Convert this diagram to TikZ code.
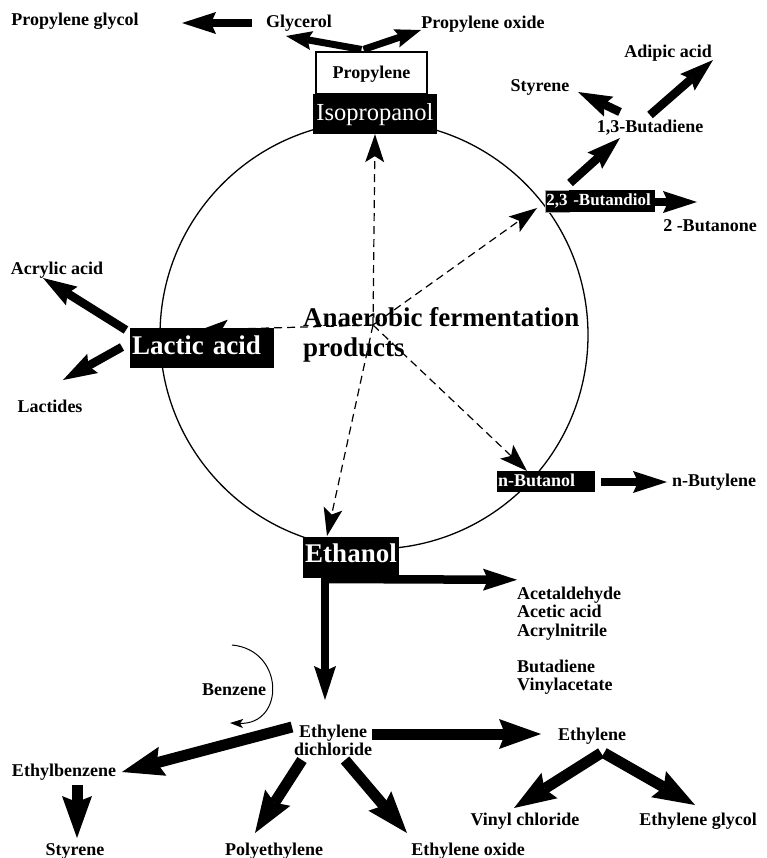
\documentclass[tikz,border=0pt]{standalone}
\usepackage{fontspec}
\setmainfont{Liberation Serif}
\usetikzlibrary{arrows.meta}
\begin{document}
\begin{tikzpicture}[x=1pt,y=-1pt,
  lbl/.style={font=\bfseries\fontsize{18}{20}\selectfont, inner sep=1pt, text height=12pt, text depth=4pt, anchor=base},
  blkbox/.style={fill=black, text=white, inner sep=0pt},
  smallfont/.style={font=\bfseries\fontsize{18}{20}\selectfont},
  bigfont/.style={font=\bfseries\fontsize{27}{30}\selectfont},
  dasharr/.style={dash pattern=on 8pt off 5pt, line width=1.2pt, -{Stealth[length=28pt,width=19pt,inset=6pt,line width=0pt]}},
  arrS/.style={line width=7pt, -{Stealth[length=26pt,width=19pt,inset=4pt,line width=0pt]}},
  arrM/.style={line width=8.5pt, -{Stealth[length=34pt,width=22pt,inset=5pt,line width=0pt]}},
  arrL/.style={line width=11pt, -{Stealth[length=42pt,width=30pt,inset=6pt,line width=0pt]}},
  thinarr/.style={line width=1pt, -{Stealth[length=13pt,width=9pt,inset=3pt]}},
]
\fill[white] (0,0) rectangle (767,858);
\useasboundingbox (0,0) rectangle (767,858);

% ring
\node[circle, draw, line width=1.3pt, minimum size=428pt, inner sep=0pt] (ring) at (374,335) {};
\coordinate (hub) at (373,325);

% boxes
\node[draw, line width=1.1pt, fill=white, minimum width=111pt, minimum height=42pt, inner sep=0pt,
      smallfont, text height=13pt, text depth=1pt] (prop) at (371.5,73) {Propylene};
\node[blkbox, minimum width=124pt, minimum height=40pt, font=\fontsize{24.5}{26}\selectfont,
      text height=19pt, text depth=5pt] (iso) at (375,114) {Isopropanol};
\node[blkbox, draw=gray!70, line width=0.6pt, minimum width=24pt, minimum height=22pt,
      font=\bfseries\fontsize{17}{19}\selectfont, text height=12pt, text depth=2pt] (bdoA) at (557,201) {2,3};
\node[blkbox, minimum width=86pt, minimum height=22pt, font=\bfseries\fontsize{17}{19}\selectfont,
      text height=12pt, text depth=2pt] (bdoB) at (612,201) {-Butandiol};
\node[blkbox, bigfont, minimum width=144pt, minimum height=40pt, text width=140pt, align=left,
      inner xsep=2pt, text height=18pt, text depth=6pt] (lac) at (202,348) {Lactic acid};
\node[blkbox, smallfont, minimum width=98pt, minimum height=21pt, text width=96pt, align=left,
      inner xsep=1pt, text height=12pt, text depth=2pt] (nbut) at (546,481.5) {n-Butanol};
\node[blkbox, bigfont, minimum width=96pt, minimum height=41pt,
      text height=18pt, text depth=8pt] (eth) at (351,557.5) {Ethanol};

% labels
\node[lbl] (pg) at (75,26) {Propylene glycol};
\node[lbl] (gly) at (299,28) {Glycerol};
\node[lbl] (po) at (483,29) {Propylene oxide};
\node[lbl] (adip) at (668,58) {Adipic acid};
\node[lbl] (sty1) at (540,92) {Styrene};
\node[lbl] (bd13) at (650,133) {1,3-Butadiene};
\node[lbl] (but2) at (710,232) {2 -Butanone};
\node[lbl] (acr) at (57,275) {Acrylic acid};
\node[lbl] (lct) at (50,412) {Lactides};
\node[lbl] (nbyl) at (714,486) {n-Butylene};
\node[bigfont, align=left, anchor=north west, inner sep=0pt] (anaer) at (303,307)
  {Anaerobic fermentation\\products};
\node[font=\bfseries\fontsize{18}{18.3}\selectfont, align=left, anchor=north west, inner sep=0pt] (prods) at (517,586.8)
  {Acetaldehyde\\Acetic acid\\Acrylnitrile\\[18.3pt]Butadiene\\Vinylacetate};
\node[font=\bfseries\fontsize{18}{18}\selectfont, align=center, anchor=north, inner sep=0pt] (edc) at (333,724.5)
  {Ethylene\\dichloride};
\node[lbl] (ethy) at (592,740) {Ethylene};
\node[lbl] (ebz) at (64,776) {Ethylbenzene};
\node[lbl] (sty2) at (75,855) {Styrene};
\node[lbl] (pe) at (274,855) {Polyethylene};
\node[lbl] (eo) at (468,855) {Ethylene oxide};
\node[lbl] (vc) at (525,825) {Vinyl chloride};
\node[lbl] (eg) at (698,825) {Ethylene glycol};
\node[lbl] (benz) at (234,695) {Benzene};

% dashed arrows from the hub
\draw[dasharr] (hub) -- (iso.south);
\draw[dasharr] (hub) -- ([shift={(-20,7)}]bdoA.center);
\draw[dasharr] (hub) -- ([shift={(-2,-18)}]lac.center);
\draw[dasharr] (hub) -- ([shift={(-19,-10.5)}]nbut.center);
\draw[dasharr] (hub) -- ([shift={(-24,-21.5)}]eth.center);

% thick arrows
\draw[arrM] ([shift={(-47,-5)}]gly.base) -- ([shift={(107,-3)}]pg.base);
\draw[arrS] ([shift={(-10,-2)}]prop.north) -- ([shift={(-13,8)}]gly.base);
\draw[arrS] ([shift={(-8,-2)}]prop.north) -- ([shift={(-62,1)}]po.base);
\draw[arrM] ([shift={(13,-18)}]bdoA.center) -- ([shift={(-30,5)}]bd13.base);
\draw[arrM] ([shift={(-30,-21)}]bd13.base) -- ([shift={(38,0)}]sty1.base);
\draw[arrM] ([shift={(0,-18)}]bd13.base) -- ([shift={(45,2)}]adip.base);
\draw[arrM] ([shift={(-1,1)}]bdoB.east) -- ([shift={(-13,-30)}]but2.base);
\draw[arrM] ([shift={(-76,-18)}]lac.center) -- ([shift={(-14,3)}]acr.base);
\draw[arrM] ([shift={(-80,-1)}]lac.center) -- ([shift={(13,-32)}]lct.base);
\draw[arrM] ([shift={(55,0.5)}]nbut.center) -- ([shift={(-47,-4)}]nbyl.base);
\draw[arrM] ([shift={(-26,21.5)}]eth.center) -- ([shift={(0,-7)}]prods.north west);
\draw[arrM] ([shift={(-26,20.5)}]eth.center) -- ([shift={(-8,-24.5)}]edc.north);
\draw[arrL] ([shift={(39,9.5)}]edc.north) -- ([shift={(-51,-6)}]ethy.base);
\draw[arrL] ([shift={(-41,2.5)}]edc.north) -- ([shift={(58,-4)}]ebz.base);
\draw[arrL] ([shift={(13,9)}]ebz.base) -- ([shift={(2,-17)}]sty2.base);
\draw[arrL] ([shift={(-31,35.5)}]edc.north) -- ([shift={(-19,-22)}]pe.base);
\draw[arrL] ([shift={(12,35.5)}]edc.north) -- ([shift={(-61,-22)}]eo.base);
\draw[arrL] ([shift={(9,13)}]ethy.base) -- ([shift={(-11,-17)}]vc.base);
\draw[arrL] ([shift={(12,13)}]ethy.base) -- ([shift={(-3,-20)}]eg.base);

% benzene curved arrow
\draw[thinarr] ([shift={(-2,-50)}]benz.base) .. controls ([shift={(51,-45)}]benz.base) and ([shift={(51,30)}]benz.base) .. ([shift={(-4,28)}]benz.base);
\end{tikzpicture}
\end{document}
